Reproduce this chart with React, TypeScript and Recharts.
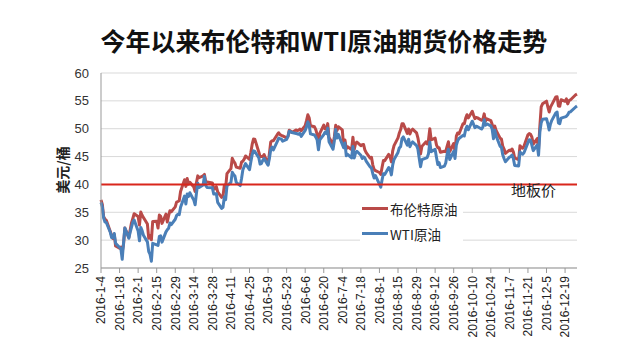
import React from "react"
import {
  CartesianGrid,
  Line,
  LineChart,
  ReferenceLine,
  XAxis,
  YAxis,
} from "recharts"

// x axis labels, every two weeks
const tickLabels = [
  "2016-1-4", "2016-1-18", "2016-2-1", "2016-2-15", "2016-2-29", "2016-3-14",
  "2016-3-28", "2016-4-11", "2016-4-25", "2016-5-9", "2016-5-23", "2016-6-6",
  "2016-6-20", "2016-7-4", "2016-7-18", "2016-8-1", "2016-8-15", "2016-8-29",
  "2016-9-12", "2016-9-26", "2016-10-10", "2016-10-24", "2016-11-7",
  "2016-11-21", "2016-12-5", "2016-12-19",
]

const yTicks = [25, 30, 35, 40, 45, 50, 55, 60]
const floorPrice = 40

// trading days: every weekday from 2016-1-4 to 2016-12-28 except these
const firstDay = "2016-1-4"
const lastDay = "2016-12-28"
const closedDays = ["2016-3-25", "2016-12-26"]

// Brent settle, one row per week (Mon..Fri)
const brent = [
  37.22, 36.42, 34.23, 33.75, 33.55,
  31.55, 30.86, 30.31, 31.03, 28.94,
  28.55, 28.76, 27.88, 29.25, 32.18,
  30.5, 31.8, 33.1, 33.89, 34.74,
  34.24, 32.72, 35.04, 34.46, 34.06,
  32.88, 30.32, 30.84, 30.06, 33.36,
  33.39, 32.18, 34.5, 34.28, 33.01,
  34.69, 33.27, 34.41, 35.29, 35.1,
  35.97, 36.81, 36.93, 37.07, 38.72,
  40.84, 39.65, 41.07, 40.05, 40.39,
  39.53, 38.74, 40.33, 41.54, 41.2,
  41.54, 41.79, 40.47, 40.44,
  40.27, 39.14, 39.26, 39.6, 38.67,
  37.69, 37.87, 39.84, 39.43, 41.94,
  42.83, 44.69, 44.18, 43.84, 43.1,
  42.91, 44.03, 44.18, 44.53, 45.11,
  44.48, 45.74, 47.18, 48.14, 48.13,
  45.83, 44.97, 45.01, 45.01, 45.37,
  43.63, 45.52, 47.59, 47.83, 47.83,
  48.97, 49.28, 48.93, 48.81, 48.72,
  48.35, 48.61, 49.74, 49.59, 49.32,
  49.76, 49.69, 49.72, 49.95, 49.64,
  50.55, 51.44, 52.51, 51.95, 50.54,
  50.35, 49.83, 48.97, 47.19, 49.17,
  50.65, 49.96, 49.88, 50.91, 48.41,
  47.16, 48.58, 50.61, 49.68, 50.35,
  49.8, 46.8, 47.96, 46.4, 46.76,
  46.25, 48.47, 46.26, 47.37, 47.61,
  46.96, 47.12, 47.17, 46.2, 45.69,
  44.72, 44.87, 43.47, 42.7, 42.46,
  42.14, 41.8, 43.1, 44.29, 44.27,
  45.39, 44.98, 44.05, 46.04, 46.97,
  48.35, 49.23, 49.85, 50.89, 50.88,
  49.16, 49.96, 49.05, 49.67, 49.92,
  49.26, 48.37, 47.04, 45.45, 46.83,
  47.63, 47.26, 47.98, 49.99, 48.01,
  48.32, 47.1, 46.59, 46.59, 45.77,
  45.95, 45.88, 46.83, 47.65, 45.89,
  47.35, 45.97, 48.69, 49.24, 49.06,
  50.89, 50.87, 51.86, 52.51, 51.93,
  53.14, 52.41, 51.81, 52.03, 51.95,
  51.52, 51.68, 52.67, 51.38, 51.78,
  51.46, 50.79, 49.98, 50.47, 49.71,
  48.3, 48.14, 46.86, 46.35, 45.58,
  46.15, 46.04, 46.36, 45.84, 44.75,
  44.43, 46.95, 46.63, 46.49, 46.86,
  48.9, 49.12, 49.0, 48.47, 47.24,
  48.24, 46.38, 50.47, 53.94, 54.46,
  54.94, 53.93, 53.0, 53.89, 54.33,
  55.69, 55.72, 54.08, 54.02, 55.21,
  54.92, 55.35, 54.46, 55.05, 55.16,
  56.09, 56.22,
]

// WTI settle, null where NYMEX was shut
const wti = [
  36.76, 35.97, 33.97, 33.27, 33.16,
  31.41, 30.44, 30.48, 31.2, 29.42,
  null, 28.46, 26.55, 29.53, 32.19,
  30.34, 31.45, 32.3, 33.22, 33.62,
  31.62, 29.88, 32.28, 31.72, 30.89,
  29.69, 27.94, 27.45, 26.21, 29.44,
  null, 29.04, 30.66, 30.77, 29.64,
  31.48, 31.87, 32.15, 33.07, 32.78,
  33.75, 34.4, 34.66, 34.57, 35.92,
  37.9, 36.5, 38.29, 37.84, 38.5,
  37.18, 36.34, 38.46, 40.2, 39.44,
  39.91, 41.45, 39.79, 39.46,
  39.39, 38.28, 38.32, 38.34, 36.79,
  35.7, 35.89, 37.75, 37.26, 39.72,
  40.36, 42.17, 41.76, 41.5, 40.36,
  39.78, 41.08, 42.63, 43.18, 43.73,
  42.64, 44.04, 45.33, 46.03, 45.92,
  44.78, 43.65, 43.78, 44.32, 44.66,
  43.44, 44.66, 46.23, 46.7, 46.21,
  47.72, 48.31, 48.19, 48.16, 47.75,
  48.08, 48.62, 49.56, 49.48, 49.33,
  null, 49.1, 49.01, 49.17, 48.62,
  49.69, 50.36, 51.23, 50.56, 49.07,
  48.88, 48.49, 48.01, 46.21, 47.98,
  48.96, 49.37, 49.13, 50.11, 47.64,
  46.33, 47.85, 49.88, 48.33, 48.99,
  null, 46.6, 47.43, 45.14, 45.41,
  44.76, 46.8, 44.75, 45.68, 45.95,
  45.24, 44.65, 44.94, 44.75, 44.19,
  43.13, 42.92, 41.92, 41.14, 41.6,
  40.06, 39.51, 40.83, 41.93, 41.8,
  43.02, 42.77, 41.71, 43.49, 44.49,
  45.74, 46.58, 46.79, 48.22, 48.52,
  47.05, 48.1, 46.77, 47.33, 47.64,
  46.98, 46.35, 44.7, 43.16, 44.44,
  null, 44.83, 45.5, 47.62, 45.88,
  46.29, 44.9, 43.58, 43.91, 43.03,
  43.3, 43.85, 45.34, 46.32, 44.48,
  45.93, 44.67, 47.05, 47.83, 48.24,
  48.81, 48.69, 49.83, 50.44, 49.81,
  51.35, 50.79, 50.18, 50.44, 50.35,
  49.94, 50.29, 51.6, 50.63, 50.85,
  50.52, 49.96, 48.18, 49.72, 48.7,
  46.86, 46.67, 45.34, 44.66, 44.07,
  44.89, 44.98, 45.27, 44.66, 43.41,
  43.32, 45.81, 45.57, 45.42, 45.69,
  47.49, 48.03, 47.96, null, 46.06,
  47.08, 45.23, 49.44, 51.06, 51.68,
  51.79, 50.93, 49.77, 50.84, 51.5,
  52.83, 52.98, 51.04, 50.9, 51.9,
  52.12, 52.23, 52.49, 52.95, 53.02,
  53.9, 54.06,
]

const DAY = 86400000
const toUtc = (s: string) => {
  const [y, m, d] = s.split("-").map(Number)
  return Date.UTC(y, m - 1, d)
}
const dayOf = (s: string) => Math.round((toUtc(s) - toUtc(firstDay)) / DAY)

const tradingDays: number[] = []
for (let t = toUtc(firstDay); t <= toUtc(lastDay); t += DAY) {
  const wd = new Date(t).getUTCDay()
  if (wd === 0 || wd === 6) continue
  if (closedDays.some((c) => toUtc(c) === t)) continue
  tradingDays.push(Math.round((t - toUtc(firstDay)) / DAY))
}

const data = tradingDays.map((d, i) => ({ d, brent: brent[i], wti: wti[i] }))
const tickDays = tickLabels.map(dayOf)
const labelByDay: Record<number, string> = {}
tickLabels.forEach((l) => (labelByDay[dayOf(l)] = l))

const RED = "#b94a48"
const BLUE = "#4a7fb8"
const CJK = "'Noto Sans CJK SC', sans-serif"

function DateTick(props: any) {
  const { x, y, payload } = props
  return (
    <text
      x={x}
      y={y + 1}
      transform={`rotate(-90, ${x}, ${y + 1})`}
      textAnchor="end"
      dy="0.36em"
      fontSize={12}
      fontFamily="'Liberation Sans', Arial, sans-serif"
      fill="#222"
    >
      {labelByDay[payload.value]}
    </text>
  )
}

function LegendRow({ color, name }: { color: string; name: string }) {
  return (
    <div style={{ display: "flex", alignItems: "center", height: 25 }}>
      <div style={{ width: 26, height: 3, background: color, marginRight: 2 }} />
      <span style={{ fontSize: 13.5, color: "#222", lineHeight: "16px" }}>{name}</span>
    </div>
  )
}

export default function App() {
  return (
    <div style={{ position: "absolute", left: 0, top: 0, width: 619, height: 351, background: "#fff" }}>
      <div
        style={{
          position: "absolute",
          left: 0,
          width: 648,
          top: 24,
          textAlign: "center",
          fontSize: 25,
          fontWeight: 700,
          fontFamily: CJK,
          color: "#111",
          lineHeight: "32px",
        }}
      >
        今年以来布伦特和WTI原油期货价格走势
      </div>
      <div
        style={{
          position: "absolute",
          left: 62,
          top: 170,
          transform: "translate(-50%, -50%) rotate(-90deg)",
          fontSize: 14,
          fontWeight: 700,
          fontFamily: CJK,
          color: "#222",
          whiteSpace: "nowrap",
        }}
      >
        美元/桶
      </div>
      <LineChart
        width={619}
        height={351}
        data={data}
        margin={{ top: 73, right: 42, left: 0, bottom: 0 }}
      >
        <CartesianGrid vertical={false} stroke="#d9d9d9" />
        <XAxis
          dataKey="d"
          type="number"
          domain={[0, 359]}
          ticks={tickDays}
          interval={0}
          height={83}
          tickSize={5}
          tickMargin={2}
          stroke="#999"
          tick={<DateTick />}
        />
        <YAxis
          domain={[25, 60]}
          ticks={yTicks}
          width={101}
          tickSize={0}
          tickMargin={12}
          stroke="#999"
          tick={{ fill: "#333", fontSize: 13, fontFamily: "'Liberation Sans', Arial, sans-serif" }}
        />
        <Line
          type="linear"
          dataKey="brent"
          stroke={RED}
          strokeWidth={3}
          dot={false}
          strokeLinejoin="round"
          isAnimationActive={false}
        />
        <Line
          type="linear"
          dataKey="wti"
          stroke={BLUE}
          strokeWidth={3}
          dot={false}
          connectNulls
          strokeLinejoin="round"
          isAnimationActive={false}
        />
        <ReferenceLine y={floorPrice} stroke="#d9261c" strokeWidth={2} />
      </LineChart>
      <div
        style={{
          position: "absolute",
          left: 360,
          top: 196,
          width: 101,
          paddingLeft: 2,
          background: "#fff",
          fontFamily: CJK,
        }}
      >
        <LegendRow color={RED} name="布伦特原油" />
        <LegendRow color={BLUE} name="WTI原油" />
      </div>
      <div
        style={{
          position: "absolute",
          left: 511,
          top: 181,
          fontSize: 15,
          fontFamily: CJK,
          color: "#222",
          lineHeight: "18px",
        }}
      >
        地板价
      </div>
    </div>
  )
}
